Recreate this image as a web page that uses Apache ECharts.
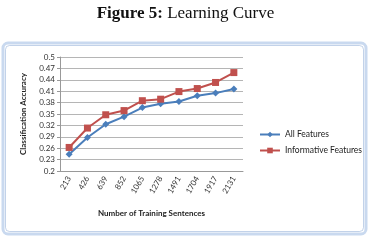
<!DOCTYPE html>
<html lang="en">
<head>
<meta charset="UTF-8">
<title>Learning Curve</title>
<script src="https://cdn.jsdelivr.net/npm/echarts@6/dist/echarts.min.js"></script>
<style>
  html, body, #content { width: 100%; height: 100%; margin: 0; background: #fff; }
</style>
</head>
<body>
<div id="content"></div>
<script>
// data
var sentences = ['213', '426', '639', '852', '1065', '1278', '1491', '1704', '1917', '2131'];
var allFeatures = [0.244, 0.288, 0.323, 0.343, 0.367, 0.377, 0.383, 0.398, 0.405, 0.416];
var informative = [0.262, 0.313, 0.348, 0.359, 0.385, 0.389, 0.409, 0.417, 0.433, 0.459];

var chart = echarts.init(document.getElementById('content'));
var lbl = { fontFamily: 'Lato', fontSize: 8, color: '#333' };

chart.setOption({
  animation: false,
  title: {
    text: '{b|Figure 5:} Learning Curve',
    left: 'center', top: 0,
    textStyle: {
      fontFamily: 'Liberation Serif', fontSize: 17, fontWeight: 'normal', color: '#111',
      rich: { b: { fontFamily: 'Liberation Serif', fontSize: 17, fontWeight: 'bold', color: '#111' } }
    }
  },
  graphic: [
    { type: 'rect', shape: { x: 3, y: 43, width: 363, height: 191, r: 5 },
      style: { fill: 'none', stroke: '#c9d9ef', lineWidth: 3 } },
    { type: 'rect', shape: { x: 5.5, y: 45.5, width: 358, height: 186, r: 4 },
      style: { fill: '#fff', stroke: '#98b3da', lineWidth: 0.6 }, z: 0 }
  ],
  grid: { left: 60, right: 128, top: 57, bottom: 69 },
  legend: {
    orient: 'vertical', left: 254, top: 125, itemGap: 7,
    itemWidth: 20, itemHeight: 7,
    textStyle: { fontFamily: 'Lato', fontSize: 8.5, color: '#222' },
    data: ['All Features', 'Informative Features']
  },
  xAxis: {
    type: 'category', data: sentences, boundaryGap: true,
    name: 'Number of Training Sentences', nameLocation: 'middle', nameGap: 38,
    nameTextStyle: { fontFamily: 'Lato', fontSize: 8, fontWeight: 'bold', color: '#222' },
    axisLine: { lineStyle: { color: '#999' } },
    axisTick: { alignWithLabel: false, length: 4, lineStyle: { color: '#999' } },
    axisLabel: Object.assign({ rotate: 60, margin: 6, interval: 0 }, lbl)
  },
  yAxis: {
    type: 'value', min: 0.2, max: 0.5, interval: 0.03,
    name: 'Classification Accuracy', nameLocation: 'middle', nameGap: 33, nameRotate: 90,
    nameTextStyle: { fontFamily: 'Lato', fontSize: 8, fontWeight: 'bold', color: '#222' },
    axisLine: { show: true, lineStyle: { color: '#999' } },
    axisTick: { show: true, length: 3, lineStyle: { color: '#999' } },
    splitLine: { lineStyle: { color: '#b5b5b5', width: 1 } },
    axisLabel: Object.assign({ margin: 5, formatter: function (v) { return +v.toFixed(2) + ''; } }, lbl)
  },
  series: [
    { name: 'All Features', type: 'line', data: allFeatures,
      symbol: 'diamond', symbolSize: 7,
      itemStyle: { color: '#4a7ebb' }, lineStyle: { color: '#4a7ebb', width: 2 } },
    { name: 'Informative Features', type: 'line', data: informative,
      symbol: 'rect', symbolSize: 7,
      itemStyle: { color: '#c0504d' }, lineStyle: { color: '#c0504d', width: 2 } }
  ]
});
window.onresize = chart.resize;
</script>
</body>
</html>
